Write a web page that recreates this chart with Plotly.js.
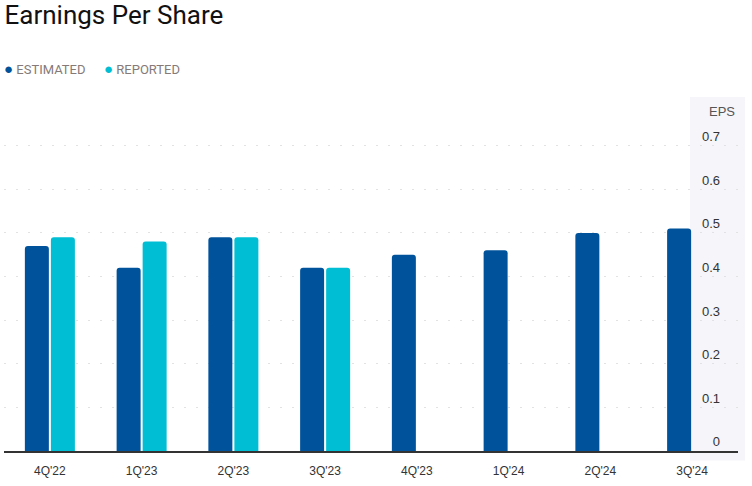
<!DOCTYPE html>
<html>
<head>
<meta charset="utf-8">
<script src="https://cdn.plot.ly/plotly-3.0.1.min.js"></script>
<style>
  html, body { margin: 0; padding: 0; background: #fff; }
  #chart { width: 752px; height: 486px; }
</style>
</head>
<body>
<div id="chart"></div>
<script>
const quarters = ["4Q'22", "1Q'23", "2Q'23", "3Q'23", "4Q'23", "1Q'24", "2Q'24", "3Q'24"];
const estimated = [0.47, 0.42, 0.49, 0.42, 0.45, 0.46, 0.50, 0.51];
const reported = [0.49, 0.48, 0.49, 0.42, null, null, null, null];
const yTicks = [0, 0.1, 0.2, 0.3, 0.4, 0.5, 0.6, 0.7];

const estColor = '#00539b';
const repColor = '#00bed4';

const traces = [
    {
        type: 'bar', name: 'Estimated', x: quarters, y: estimated,
        marker: {color: estColor}, showlegend: false, hoverinfo: 'x+y'
    },
    {
        type: 'bar', name: 'Reported', x: quarters, y: reported,
        marker: {color: repColor}, showlegend: false, hoverinfo: 'x+y'
    }
];

const layout = {
    width: 752,
    height: 486,
    margin: {l: 4, r: 14, t: 102, b: 35},
    paper_bgcolor: '#ffffff',
    plot_bgcolor: 'rgba(0,0,0,0)',
    font: {family: 'Liberation Sans, Arial, sans-serif', size: 12, color: '#333'},
    title: {
        text: 'Earnings Per Share',
        x: 0.006, xanchor: 'left', xref: 'container',
        y: 0.988, yanchor: 'top', yref: 'container',
        font: {family: 'Roboto, sans-serif', size: 26, color: '#111'}
    },
    barmode: 'group',
    bargap: 0.433,
    bargroupgap: 0.077,
    barcornerradius: 3,
    xaxis: {
        type: 'category',
        range: [-0.5, 7.5],
        showline: true, linecolor: '#333', linewidth: 1.5,
        showgrid: false, ticks: '',
        ticklabelstandoff: 8,
        tickfont: {size: 12, color: '#333'},
        fixedrange: true
    },
    yaxis: {
        side: 'right',
        range: [0, 0.8],
        tickvals: yTicks,
        ticktext: yTicks.map(v => String(v)),
        ticklabelposition: 'inside top',
        ticklabelstandoff: 15,
        tickfont: {size: 13, color: '#333'},
        showgrid: true, gridcolor: '#e2e2e2', griddash: '2px,10px', gridwidth: 1,
        zeroline: false, showline: false, ticks: '',
        fixedrange: true
    },
    shapes: [{
        type: 'rect', xref: 'paper', yref: 'paper', layer: 'below',
        x0: 0.9346, x1: 1.0095, y0: -0.0275, y1: 1.0143,
        fillcolor: '#f5f5fa', line: {width: 0}
    }],
    annotations: [
        {
            text: 'EPS', xref: 'paper', yref: 'paper', x: 0.999, y: 0.973,
            xanchor: 'right', yanchor: 'middle', showarrow: false,
            font: {size: 13, color: '#555'}
        },
        {
            text: '<span style="color:' + estColor + ';font-size:15px">●</span> ESTIMATED',
            xref: 'paper', yref: 'paper', x: -0.003, y: 1.0946,
            xanchor: 'left', yanchor: 'middle', showarrow: false,
            font: {family: 'Roboto, sans-serif', size: 13, color: '#857a78'}
        },
        {
            text: '<span style="color:' + repColor + ';font-size:15px">●</span> REPORTED',
            xref: 'paper', yref: 'paper', x: 0.134, y: 1.0946,
            xanchor: 'left', yanchor: 'middle', showarrow: false,
            font: {family: 'Roboto, sans-serif', size: 13, color: '#857a78'}
        }
    ]
};

Plotly.newPlot('chart', traces, layout, {displayModeBar: false, responsive: false});
</script>
</body>
</html>
